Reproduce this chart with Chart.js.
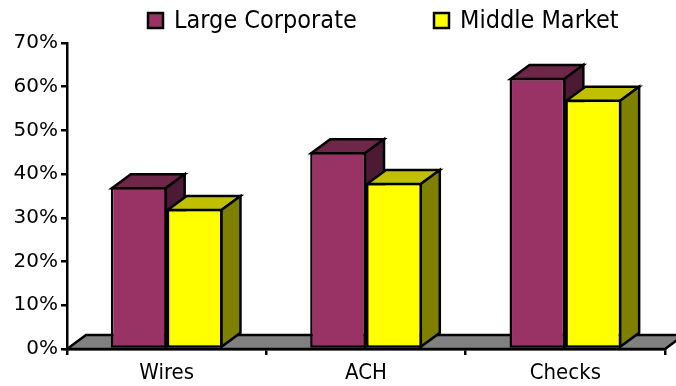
<!DOCTYPE html>
<html>
<head>
<meta charset="utf-8">
<script src="https://cdn.jsdelivr.net/npm/chart.js@4"></script>
<style>
  html, body { margin: 0; padding: 0; background: #fff; }
  #wrap { width: 676px; height: 386px; }
</style>
</head>
<body>
<div id="wrap"><canvas id="chart" width="676" height="386"></canvas></div>
<script>
const categories = ["Wires", "ACH", "Checks"];
const largeCorporate = [37, 45, 62];
const middleMarket = [32, 38, 57];
const yTicks = [0, 10, 20, 30, 40, 50, 60, 70];

const FONT = "'DejaVu Sans', sans-serif";
const NARROW = "'DejaVu Sans Condensed', 'Liberation Sans Narrow', 'DejaVu Sans', sans-serif";
const DEPTH_X = 19;
const DEPTH_Y = -14;

// top and right faces for each bar, plus the grey floor
const threeD = {
  id: "threeD",
  beforeDatasetsDraw(chart) {
    const ctx = chart.ctx;
    const area = chart.chartArea;
    ctx.save();
    ctx.lineWidth = 2.5;
    ctx.strokeStyle = "#000";
    ctx.lineJoin = "miter";

    // floor
    ctx.fillStyle = "#808080";
    ctx.beginPath();
    ctx.moveTo(area.left, area.bottom);
    ctx.lineTo(area.left + DEPTH_X, area.bottom + DEPTH_Y);
    ctx.lineTo(area.right + DEPTH_X, area.bottom + DEPTH_Y);
    ctx.lineTo(area.right, area.bottom);
    ctx.closePath();
    ctx.fill();
    ctx.stroke();

    chart.data.datasets.forEach((ds, i) => {
      const meta = chart.getDatasetMeta(i);
      meta.data.forEach(bar => {
        const L = bar.x - bar.width / 2 + 1;
        const R = bar.x + bar.width / 2 - 1;
        const T = bar.y + 1;
        const B = bar.base - 1;

        ctx.fillStyle = ds.topColor;
        ctx.beginPath();
        ctx.moveTo(L, T);
        ctx.lineTo(L + DEPTH_X, T + DEPTH_Y);
        ctx.lineTo(R + DEPTH_X, T + DEPTH_Y);
        ctx.lineTo(R, T);
        ctx.closePath();
        ctx.fill();
        ctx.stroke();

        ctx.fillStyle = ds.sideColor;
        ctx.beginPath();
        ctx.moveTo(R, T);
        ctx.lineTo(R + DEPTH_X, T + DEPTH_Y);
        ctx.lineTo(R + DEPTH_X, B + DEPTH_Y);
        ctx.lineTo(R, B);
        ctx.closePath();
        ctx.fill();
        ctx.stroke();
      });
    });
    ctx.restore();
  },
  afterDraw(chart) {
    // legend across the top
    const ctx = chart.ctx;
    const spots = [148, 434];
    ctx.save();
    ctx.font = "25px " + NARROW;
    ctx.textBaseline = "middle";
    ctx.textAlign = "left";
    chart.data.datasets.forEach((ds, i) => {
      const x = spots[i];
      ctx.fillStyle = ds.backgroundColor;
      ctx.fillRect(x, 13, 15, 15);
      ctx.lineWidth = 2.5;
      ctx.strokeStyle = "#000";
      ctx.strokeRect(x, 13, 15, 15);
      ctx.fillStyle = "#000";
      ctx.fillText(ds.label, x + 26, 21);
    });
    ctx.restore();
  }
};

const chart = new Chart(document.getElementById("chart"), {
  type: "bar",
  data: {
    labels: categories,
    datasets: [
      {
        label: "Large Corporate",
        data: largeCorporate,
        backgroundColor: "#993366",
        topColor: "#6e2649",
        sideColor: "#4d1a36",
        borderColor: "#000",
        borderWidth: 2.5,
        borderSkipped: false,
      },
      {
        label: "Middle Market",
        data: middleMarket,
        backgroundColor: "#ffff00",
        topColor: "#c0c000",
        sideColor: "#808000",
        borderColor: "#000",
        borderWidth: 2.5,
        borderSkipped: false,
      },
    ],
  },
  options: {
    responsive: false,
    animation: false,
    layout: { padding: { top: 43, right: 11, bottom: 0, left: 0 } },
    datasets: { bar: { categoryPercentage: 0.56, barPercentage: 1 } },
    plugins: { legend: { display: false }, tooltip: { enabled: false } },
    scales: {
      x: {
        afterFit: s => { s.height = 37; },
        border: { color: "#000", width: 2.5 },
        grid: { drawOnChartArea: false, color: "#000", lineWidth: 2.5, tickLength: 6, offset: true },
        ticks: { color: "#000", padding: 5, font: { family: NARROW, size: 22 } },
      },
      y: {
        min: 0,
        max: 70,
        afterFit: s => { s.width = 67; },
        afterBuildTicks: s => { s.ticks = yTicks.map(v => ({ value: v })); },
        border: { color: "#000", width: 2.5 },
        grid: { drawOnChartArea: false, color: "#000", lineWidth: 2.5, tickLength: 6 },
        ticks: {
          color: "#000",
          padding: 3,
          font: { family: FONT, size: 20 },
          callback: v => v + "%",
        },
      },
    },
  },
  plugins: [threeD],
});
</script>
</body>
</html>
